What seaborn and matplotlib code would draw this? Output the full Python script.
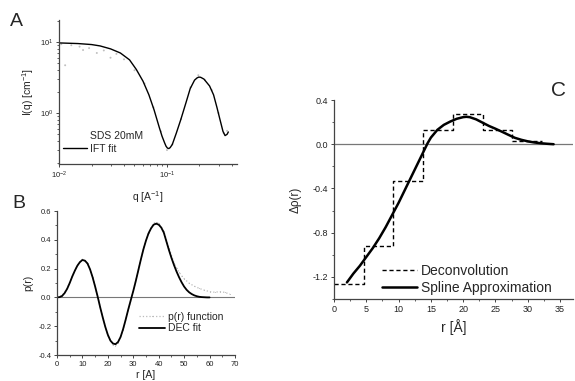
import matplotlib
matplotlib.use("Agg")
import matplotlib.pyplot as plt
import matplotlib.ticker as mticker
import seaborn as sns
import numpy as np

# ---------------- data ----------------
# Panel A: SAXS intensity (log-log)
qA_fit = [0.010, 0.015, 0.020, 0.024, 0.030, 0.037, 0.045, 0.052, 0.060, 0.068,
          0.076, 0.085, 0.090, 0.095, 0.098, 0.101, 0.104, 0.107, 0.112, 0.122,
          0.134, 0.150, 0.164, 0.180, 0.190, 0.197, 0.205, 0.220, 0.248, 0.270,
          0.290, 0.310, 0.330, 0.345, 0.360, 0.370]
IA_fit = [9.7, 9.5, 9.2, 8.8, 8.0, 7.0, 5.6, 4.1, 2.8, 1.8,
          1.1, 0.62, 0.47, 0.38, 0.34, 0.32, 0.315, 0.325, 0.36, 0.52,
          0.80, 1.40, 2.20, 2.90, 3.12, 3.20, 3.18, 3.00, 2.40, 1.80,
          1.20, 0.80, 0.55, 0.48, 0.50, 0.54]
qA_data = [0.0105, 0.0114, 0.013, 0.0155, 0.0167, 0.019, 0.0224, 0.026, 0.030,
           0.034, 0.040, 0.050, 0.062, 0.075, 0.088, 0.100, 0.112, 0.135, 0.165,
           0.195, 0.225, 0.260, 0.300, 0.335, 0.360]
IA_data = [9.3, 4.7, 9.0, 8.6, 7.7, 8.2, 7.0, 7.6, 6.0,
           6.8, 5.7, 4.0, 2.6, 1.2, 0.55, 0.30, 0.36, 0.82, 2.3,
           3.4, 2.9, 2.1, 1.0, 0.52, 0.56]

# Panel B: pair distance distribution
rB_fit = list(range(0, 61))
pB_fit = [0, 0.002, 0.01, 0.03, 0.06, 0.10, 0.145, 0.185, 0.22, 0.245,
          0.26, 0.255, 0.235, 0.195, 0.14, 0.075, 0.005, -0.07, -0.14, -0.205,
          -0.26, -0.30, -0.32, -0.325, -0.31, -0.275, -0.22, -0.155, -0.085, -0.02,
          0.045, 0.115, 0.19, 0.265, 0.335, 0.395, 0.445, 0.48, 0.505, 0.512,
          0.505, 0.485, 0.45, 0.39, 0.33, 0.275, 0.225, 0.18, 0.14, 0.105,
          0.075, 0.052, 0.035, 0.023, 0.014, 0.008, 0.004, 0.002, 0.001, 0.0, 0.0]
rB_data = [0, 2, 4, 6, 8, 10, 12, 14, 16, 18, 20, 22, 23, 24, 26, 28, 30, 32,
           34, 36, 38, 39, 40, 42, 44, 46, 47, 48, 49, 50, 52, 54, 56, 58, 60,
           62, 64, 66, 68]
pB_data = [0, 0.012, 0.062, 0.148, 0.222, 0.265, 0.238, 0.142, 0.005, -0.14,
           -0.265, -0.33, -0.335, -0.315, -0.225, -0.088, 0.045, 0.19, 0.34, 0.45,
           0.515, 0.522, 0.515, 0.46, 0.345, 0.24, 0.205, 0.175, 0.15, 0.13,
           0.098, 0.078, 0.062, 0.05, 0.04, 0.036, 0.04, 0.035, 0.022]

# Panel C: electron density profile
dec_edges = [0, 4.6, 9.2, 13.8, 18.4, 23.0, 27.6, 32.2]
dec_vals = [-1.26, -0.92, -0.33, 0.13, 0.27, 0.13, 0.03, 0.03]
rC = [2, 3, 4, 5, 6, 7, 8, 9, 10, 11, 12, 13, 14, 14.5, 15, 16, 17, 18, 19, 20,
      20.5, 21, 22, 23, 24, 25, 26, 27, 28, 29, 30, 31, 32, 33, 34]
drho = [-1.25, -1.17, -1.10, -1.02, -0.94, -0.85, -0.75, -0.64, -0.53, -0.41,
        -0.29, -0.17, -0.05, 0.01, 0.06, 0.13, 0.175, 0.205, 0.23, 0.245,
        0.248, 0.245, 0.225, 0.195, 0.165, 0.14, 0.113, 0.085, 0.058, 0.04,
        0.026, 0.016, 0.009, 0.004, 0.0]

# ---------------- style ----------------
sns.set_style("ticks")
plt.rcParams["font.family"] = ["Liberation Sans", "DejaVu Sans"]
plt.rcParams["mathtext.fontset"] = "custom"
plt.rcParams["mathtext.rm"] = "Liberation Sans"
plt.rcParams["mathtext.it"] = "Liberation Sans:italic"
plt.rcParams["mathtext.default"] = "regular"

spine_c = "#444444"
fig = plt.figure(figsize=(5.75, 3.81), dpi=100)

def style_ax(ax, fs):
    sns.despine(ax=ax)
    for s in ("left", "bottom"):
        ax.spines[s].set_color(spine_c)
        ax.spines[s].set_linewidth(0.9)
    ax.tick_params(which="major", direction="out", length=2.5, width=0.7,
                   colors=spine_c, labelsize=fs, labelcolor="#222222", pad=1.5)
    ax.tick_params(which="minor", direction="out", length=1.5, width=0.6,
                   colors=spine_c)

# ---- Panel A ----
axA = fig.add_axes([59/575, 1-164/381, 178/575, 144/381])
sns.scatterplot(x=qA_data, y=IA_data, ax=axA, s=2, color="#c0c0c0",
                edgecolor="none", label="SDS 20mM")
sns.lineplot(x=qA_fit, y=IA_fit, ax=axA, color="black", lw=1.0,
             label="IFT fit", sort=False)
axA.set_xscale("log")
axA.set_yscale("log")
axA.set_xlim(0.01, 0.445)
axA.set_ylim(0.191, 20.4)
axA.xaxis.set_major_locator(mticker.FixedLocator([0.01, 0.1]))
axA.yaxis.set_major_locator(mticker.FixedLocator([1, 10]))
axA.xaxis.set_minor_locator(mticker.LogLocator(subs=np.arange(2, 10)))
axA.yaxis.set_minor_locator(mticker.LogLocator(subs=np.arange(2, 10)))
axA.xaxis.set_minor_formatter(mticker.NullFormatter())
axA.yaxis.set_minor_formatter(mticker.NullFormatter())
axA.xaxis.set_major_formatter(mticker.FixedFormatter(["$10^{-2}$", "$10^{-1}$"]))
axA.yaxis.set_major_formatter(mticker.FixedFormatter(["$10^{0}$", "$10^{1}$"]))
style_ax(axA, 5.5)
axA.set_xlabel("q [A$^{-1}$]", fontsize=7.5, labelpad=6)
axA.set_ylabel("I(q) [cm$^{-1}$]", fontsize=7.5, labelpad=3)
axA.legend(loc="lower left", bbox_to_anchor=(0.02, 0.07), frameon=False,
           fontsize=7.5, handlelength=2.3, handletextpad=0.3, labelspacing=0.25,
           borderpad=0, borderaxespad=0, markerscale=0.01)

# ---- Panel B ----
axB = fig.add_axes([57/575, 1-355/381, 178/575, 144/381])
axB.axhline(0, color="#777777", lw=0.8, zorder=1)
sns.lineplot(x=rB_data, y=pB_data, ax=axB, color="#bbbbbb", lw=0.9,
             linestyle=":", marker=".", markersize=1.5, markeredgewidth=0,
             label="p(r) function", sort=False)
sns.lineplot(x=rB_fit, y=pB_fit, ax=axB, color="black", lw=1.3,
             label="DEC fit", sort=False)
axB.set_xlim(0, 70)
axB.set_ylim(-0.4, 0.6)
axB.xaxis.set_major_locator(mticker.MultipleLocator(10))
axB.xaxis.set_minor_locator(mticker.MultipleLocator(5))
axB.yaxis.set_major_locator(mticker.MultipleLocator(0.2))
axB.yaxis.set_minor_locator(mticker.MultipleLocator(0.1))
axB.yaxis.set_major_formatter(mticker.FormatStrFormatter("%.1f"))
style_ax(axB, 5.5)
axB.set_xlabel("r [A]", fontsize=7.5, labelpad=2)
axB.set_ylabel("p(r)", fontsize=7.5, labelpad=4)
axB.legend(loc="lower left", bbox_to_anchor=(0.46, 0.15), frameon=False,
           fontsize=7.5, handlelength=2.5, handletextpad=0.3, labelspacing=0.15,
           borderpad=0, borderaxespad=0)

# ---- Panel C ----
axC = fig.add_axes([334/575, 1-299/381, 239/575, 199/381])
axC.axhline(0, color="#777777", lw=0.9, zorder=1)
sns.lineplot(x=dec_edges, y=dec_vals, ax=axC, color="black", lw=1.0,
             linestyle=(0, (3, 2)), drawstyle="steps-post",
             label="Deconvolution", sort=False)
sns.lineplot(x=rC, y=drho, ax=axC, color="black", lw=1.8,
             label="Spline Approximation", sort=False)
axC.set_xlim(0, 37)
axC.set_ylim(-1.4, 0.4)
axC.xaxis.set_major_locator(mticker.MultipleLocator(5))
axC.xaxis.set_minor_locator(mticker.MultipleLocator(2.5))
axC.yaxis.set_major_locator(mticker.MultipleLocator(0.4))
axC.yaxis.set_minor_locator(mticker.MultipleLocator(0.2))
axC.yaxis.set_major_formatter(mticker.FormatStrFormatter("%.1f"))
style_ax(axC, 6.5)
axC.set_xlabel("r [Å]", fontsize=10, labelpad=4)
axC.set_ylabel("Δρ(r)", fontsize=8.5, labelpad=8)
axC.legend(loc="lower left", bbox_to_anchor=(0.2, 0.02), frameon=False,
           fontsize=10, handlelength=2.5, handletextpad=0.3, labelspacing=0.25,
           borderpad=0, borderaxespad=0)

# panel letters
fig.text(10/575, 1-22/381, "A", fontsize=14, va="center", ha="left")
fig.text(12/575, 1-203/381, "B", fontsize=14, va="center", ha="left")
fig.text(558/575, 1-90/381, "C", fontsize=15, va="center", ha="center")

fig.savefig("out.png", dpi=100)
